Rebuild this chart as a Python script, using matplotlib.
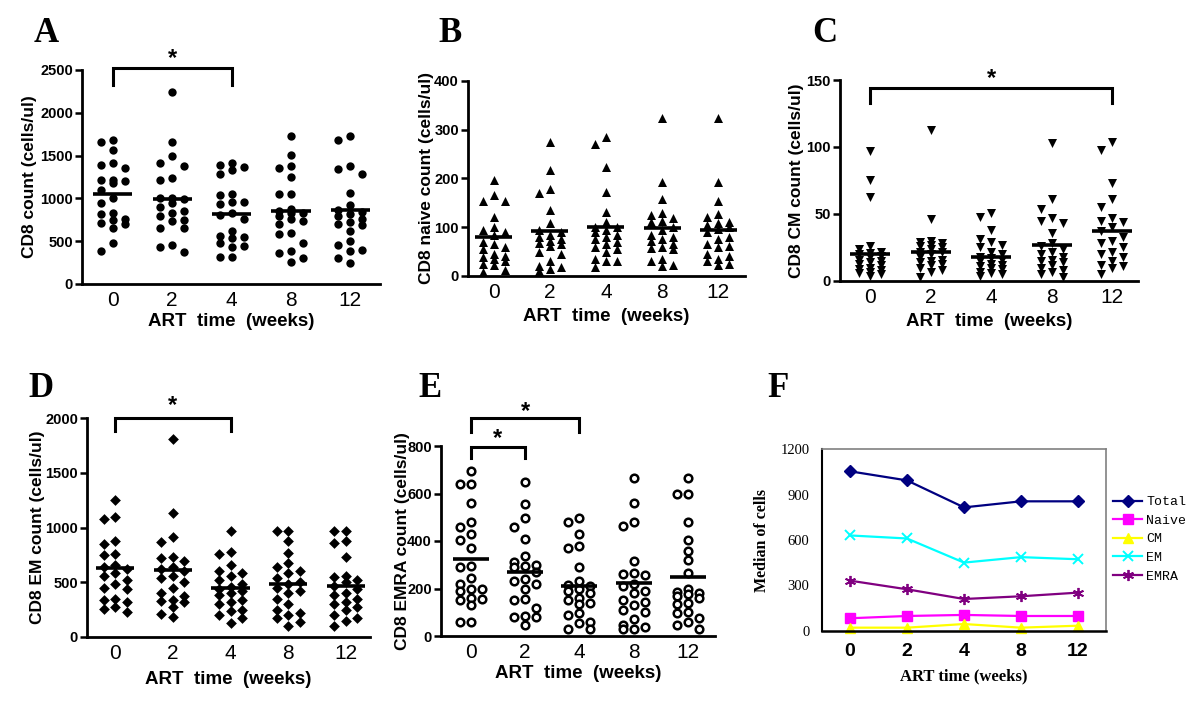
import matplotlib
matplotlib.use('Agg')
import matplotlib.pyplot as plt
import numpy as np

# ---------------- data ----------------
weeks = ['0', '2', '4', '8', '12']

# Panel A: CD8 count (cells/ul), one list per week
cd8_w0 = [1680, 1660, 1560, 1410, 1390, 1350, 1220, 1220, 1200, 1180, 1100,
          1000, 950, 830, 820, 760, 750, 710, 700, 660, 480, 380]
cd8_w2 = [2240, 1660, 1490, 1410, 1380, 1240, 1210, 1010, 1000, 990, 950,
          900, 850, 830, 790, 750, 740, 650, 650, 460, 430, 370]
cd8_w4 = [1410, 1390, 1370, 1330, 1280, 1050, 1040, 960, 960, 940, 830,
          810, 760, 620, 560, 550, 540, 480, 440, 430, 310, 310]
cd8_w8 = [1730, 1510, 1380, 1350, 1250, 1050, 1050, 880, 850, 830, 830,
          800, 760, 740, 700, 590, 580, 480, 380, 360, 300, 260]
cd8_w12 = [1730, 1680, 1380, 1340, 1280, 1060, 920, 860, 840, 820, 790,
           760, 720, 700, 690, 620, 500, 460, 400, 380, 300, 250]
cd8_median = [1055, 990, 815, 855, 860]

# Panel B: CD8 naive count
naive_w0 = [197, 167, 153, 153, 122, 100, 95, 90, 85, 70, 65, 60, 55, 45,
            42, 38, 35, 30, 25, 22, 13, 8]
naive_w2 = [275, 218, 178, 170, 135, 108, 95, 90, 85, 80, 75, 72, 68, 65,
            62, 50, 45, 30, 20, 18, 15, 10]
naive_w4 = [285, 270, 224, 172, 132, 110, 100, 100, 95, 90, 85, 80, 75, 70,
            65, 60, 55, 50, 35, 30, 30, 18]
naive_w8 = [325, 193, 158, 130, 125, 118, 112, 110, 100, 95, 85, 80, 75, 72,
            65, 60, 58, 55, 35, 30, 22, 20]
naive_w12 = [325, 193, 153, 128, 122, 110, 108, 105, 100, 97, 90, 80, 75, 65,
             62, 60, 45, 42, 35, 30, 25, 22]
naive_median = [80, 93, 100, 98, 95]

# Panel C: CD8 CM count
cm_w0 = [97, 75, 63, 26, 24, 22, 21, 20, 19, 18, 16, 15, 14, 13, 12, 10, 9,
         8, 7, 6, 5, 4]
cm_w2 = [113, 46, 30, 29, 28, 27, 26, 25, 24, 22, 22, 20, 18, 16, 15, 14, 13,
         12, 10, 8, 7, 3]
cm_w4 = [51, 48, 38, 31, 29, 27, 25, 22, 20, 18, 17, 16, 15, 13, 12, 11, 10,
         9, 7, 6, 5, 4]
cm_w8 = [103, 61, 54, 47, 45, 43, 36, 28, 26, 24, 22, 20, 18, 16, 15, 14, 12,
         10, 8, 7, 5, 3]
cm_w12 = [104, 98, 73, 61, 55, 47, 45, 44, 40, 37, 33, 30, 28, 25, 22, 20, 18,
          15, 12, 11, 10, 5]
cm_median = [20, 22, 18, 27, 37]

# Panel D: CD8 EM count
em_w0 = [1250, 1100, 1080, 880, 850, 760, 750, 660, 640, 620, 580, 560, 520,
         480, 450, 440, 350, 340, 320, 270, 260, 230]
em_w2 = [1810, 1130, 910, 870, 730, 720, 690, 640, 620, 600, 560, 540, 500,
         450, 400, 370, 340, 330, 320, 270, 210, 180]
em_w4 = [970, 780, 760, 660, 600, 580, 560, 520, 480, 460, 440, 420, 400,
         380, 340, 320, 300, 250, 240, 200, 170, 130]
em_w8 = [970, 970, 880, 770, 680, 640, 600, 580, 540, 500, 480, 450, 420,
         400, 350, 300, 250, 220, 200, 170, 140, 100]
em_w12 = [970, 970, 880, 860, 730, 560, 550, 520, 500, 470, 440, 400, 380,
          350, 320, 300, 270, 250, 200, 170, 150, 100]
em_median = [630, 610, 450, 485, 470]

# Panel E: CD8 EMRA count
emra_w0 = [695, 640, 640, 560, 480, 460, 430, 405, 370, 295, 290, 245, 220,
           200, 200, 190, 160, 155, 150, 130, 60, 60]
emra_w2 = [650, 555, 495, 460, 410, 335, 310, 300, 295, 290, 270, 240, 230,
           220, 200, 155, 150, 120, 85, 80, 80, 45]
emra_w4 = [495, 478, 430, 380, 370, 290, 230, 215, 210, 200, 190, 180, 160,
           150, 140, 135, 95, 90, 60, 55, 30, 30]
emra_w8 = [665, 560, 480, 465, 315, 265, 260, 255, 220, 210, 190, 180, 150,
           145, 130, 110, 100, 70, 45, 40, 30, 30]
emra_w12 = [665, 600, 600, 480, 405, 360, 320, 265, 200, 185, 180, 175, 170,
            160, 140, 135, 100, 95, 75, 60, 45, 30]
emra_median = [325, 270, 210, 225, 250]

# Panel F: medians of cells
f_total = [1053, 993, 815, 855, 855]
f_naive = [84, 99, 106, 99, 99]
f_cm = [22, 22, 46, 22, 35]
f_em = [630, 610, 451, 487, 473]
f_emra = [332, 275, 211, 229, 253]

# ---------------- layout helpers ----------------
W, H = 1200, 714
fig = plt.figure(figsize=(W / 100, H / 100), dpi=100)

SANS = ['Liberation Sans', 'DejaVu Sans']
NARROW = ['Liberation Sans Narrow', 'Liberation Sans', 'DejaVu Sans']
SERIF = ['Liberation Serif', 'DejaVu Serif']


def add_ax(x0, x1, y0, y1):
    return fig.add_axes([x0 / W, 1 - y1 / H, (x1 - x0) / W, (y1 - y0) / H])


def swarm(values, ax_wpx, ax_hpx, xspan, ymax, step_px, min_px):
    vals = np.asarray(values, float)
    ypx = vals / ymax * ax_hpx
    order = np.argsort(-vals, kind='stable')
    placed = []
    offs = np.zeros(len(vals))
    for i in order:
        best = None
        bestc, bestd = 0, -1
        for c in (0.0, -step_px, step_px):
            d = min([np.hypot(c - px, ypx[i] - py) for px, py in placed],
                    default=1e9)
            if d >= min_px:
                best = c
                break
            if d > bestd:
                bestd, bestc = d, c
        if best is None:
            best = bestc
        placed.append((best, ypx[i]))
        offs[i] = best
    return offs * xspan / ax_wpx


def scatter_panel(box, groups, medians, ymax, ystep, ylabel, marker, size,
                  open_marker=False, ylab_dx=-50, xlab_dy=40, xlim=(-0.5, 4.5),
                  step_px=11.5):
    x0, x1, y0, y1 = box
    ax = add_ax(x0, x1, y0, y1)
    wpx, hpx = x1 - x0, y1 - y0
    for i, g in enumerate(groups):
        off = swarm(g, wpx, hpx, xlim[1] - xlim[0], ymax, step_px, 9.5)
        xs = i + off
        if open_marker:
            ax.scatter(xs, g, s=size, marker=marker, facecolors='white',
                       edgecolors='black', linewidths=1.8, zorder=3,
                       clip_on=False)
        else:
            ax.scatter(xs, g, s=size, marker=marker, color='black',
                       linewidths=0, zorder=3, clip_on=False)
        ax.hlines(medians[i], i - 0.33, i + 0.33, color='black', lw=2.6,
                  zorder=4)
    ax.set_xlim(*xlim)
    ax.set_ylim(0, ymax)
    ax.set_yticks(np.arange(0, ymax + ystep / 2, ystep))
    ax.set_xticks(range(len(weeks)))
    ax.set_xticklabels(weeks, fontsize=15, family=SANS)
    for lab in ax.get_yticklabels():
        lab.set_fontweight('bold')
        lab.set_fontsize(10.5)
        lab.set_family(NARROW)
    ax.tick_params(axis='x', length=0, pad=5)
    ax.tick_params(axis='y', length=5, width=1.8, pad=1.5)
    for s in ('top', 'right'):
        ax.spines[s].set_visible(False)
    for s in ('left', 'bottom'):
        ax.spines[s].set_linewidth(2.0)
    ax.set_ylabel(ylabel, fontsize=12.5, fontweight='bold', family=SANS,
                  va='center', ha='center')
    ax.yaxis.set_label_coords(ylab_dx / wpx, 0.5)
    ax.set_xlabel('ART  time  (weeks)', fontsize=13.5, fontweight='bold',
                  family=SANS, va='center')
    ax.xaxis.set_label_coords(0.5, -xlab_dy / hpx)
    return ax


def bracket(ax, i0, i1, ytop, yleg, ystar):
    ax.plot([i0, i0, i1, i1], [yleg, ytop, ytop, yleg], color='black',
            lw=2.2, clip_on=False, solid_joinstyle='miter', zorder=5)
    ax.text((i0 + i1) / 2, ystar, '*', ha='center', va='center',
            fontsize=17, fontweight='bold', family=SANS, clip_on=False)


# ---------------- panels A-E ----------------
axA = scatter_panel((82, 380, 70, 284),
                    [cd8_w0, cd8_w2, cd8_w4, cd8_w8, cd8_w12], cd8_median,
                    2500, 500, 'CD8 count (cells/ul)', 'o', 36,
                    ylab_dx=-52, xlab_dy=38, xlim=(-0.52, 4.5), step_px=12)
bracket(axA, 0, 2, 2520, 2320, 2640)

axB = scatter_panel((468, 745, 81, 276),
                    [naive_w0, naive_w2, naive_w4, naive_w8, naive_w12],
                    naive_median, 400, 100, 'CD8 naive count (cells/ul)',
                    '^', 42, ylab_dx=-41, xlab_dy=41, xlim=(-0.46, 4.48),
                    step_px=11)

axC = scatter_panel((840, 1138, 80, 281),
                    [cm_w0, cm_w2, cm_w4, cm_w8, cm_w12], cm_median,
                    150, 50, 'CD8 CM count (cells/ul)', 'v', 42,
                    ylab_dx=-43, xlab_dy=41, xlim=(-0.5, 4.43), step_px=11)
bracket(axC, 0, 4, 144, 133, 151)

axD = scatter_panel((87, 370, 418, 637),
                    [em_w0, em_w2, em_w4, em_w8, em_w12], em_median,
                    2000, 500, 'CD8 EM count (cells/ul)', 'D', 30,
                    ylab_dx=-49, xlab_dy=43, xlim=(-0.49, 4.42), step_px=11.5)
bracket(axD, 0, 2, 2000, 1880, 2110)

axE = scatter_panel((441, 715, 446, 636),
                    [emra_w0, emra_w2, emra_w4, emra_w8, emra_w12],
                    emra_median, 800, 200, 'CD8 EMRA count (cells/ul)', 'o',
                    30, open_marker=True, ylab_dx=-39, xlab_dy=38,
                    xlim=(-0.55, 4.5), step_px=11)
bracket(axE, 0, 2, 916, 860, 945)
bracket(axE, 0, 1, 797, 748, 832)

# ---------------- panel F ----------------
axF = add_ax(822, 1106, 449, 631)
xF = np.arange(len(weeks))
axF.plot(xF, f_total, color='#000080', marker='D', ms=6, lw=1.6,
         label='Total', clip_on=False)
axF.plot(xF, f_naive, color='#FF00FF', marker='s', ms=6.5, lw=1.6,
         label='Naive', clip_on=False)
axF.plot(xF, f_cm, color='#FFFF00', marker='^', ms=7, lw=1.6,
         label='CM', clip_on=False)
axF.plot(xF, f_em, color='#00FFFF', marker='x', ms=7, mew=1.4, lw=1.6,
         label='EM', clip_on=False)
axF.plot(xF, f_emra, color='#800080', marker=(6, 2, 0), ms=8, mew=1.3,
         lw=1.6, label='EMRA', clip_on=False)
axF.set_xlim(-0.49, 4.49)
axF.set_ylim(0, 1200)
axF.set_yticks([0, 300, 600, 900, 1200])
axF.set_xticks(xF)
axF.set_xticklabels(weeks, fontsize=14, fontweight='bold', family=SANS)
for lab in axF.get_yticklabels():
    lab.set_fontsize(10.5)
    lab.set_family(SERIF)
axF.tick_params(axis='x', length=0, pad=9)
axF.tick_params(axis='y', length=0, pad=9)
axF.spines['top'].set_color('#808080')
axF.spines['right'].set_color('#808080')
axF.spines['top'].set_linewidth(1.2)
axF.spines['right'].set_linewidth(1.2)
axF.spines['left'].set_linewidth(1.5)
axF.spines['bottom'].set_linewidth(1.8)
axF.set_ylabel('Median of cells', fontsize=11.5, fontweight='bold',
               family=SERIF, va='center', ha='center')
axF.yaxis.set_label_coords(-60 / 284, 0.5)
axF.set_xlabel('ART time (weeks)', fontsize=12, fontweight='bold',
               family=SERIF, va='center')
axF.xaxis.set_label_coords(0.5, -45 / 182)
axF.legend(loc='upper left', bbox_to_anchor=(1113 / W, 1 - 496 / H),
           bbox_transform=fig.transFigure, frameon=False,
           prop={'family': ['Liberation Mono', 'DejaVu Sans Mono'],
                 'size': 9.5},
           handlelength=2.2, handletextpad=0.3, labelspacing=0.48,
           borderpad=0, borderaxespad=0)

# ---------------- panel letters ----------------
for letter, (px, py) in zip('ABCDEF', [(46, 33), (450, 33), (825, 33),
                                       (41, 389), (430, 389), (778, 389)]):
    fig.text(px / W, 1 - py / H, letter, ha='center', va='center',
             fontsize=25, fontweight='bold', family=SERIF)

fig.savefig('out.png', dpi=100, facecolor='white')
